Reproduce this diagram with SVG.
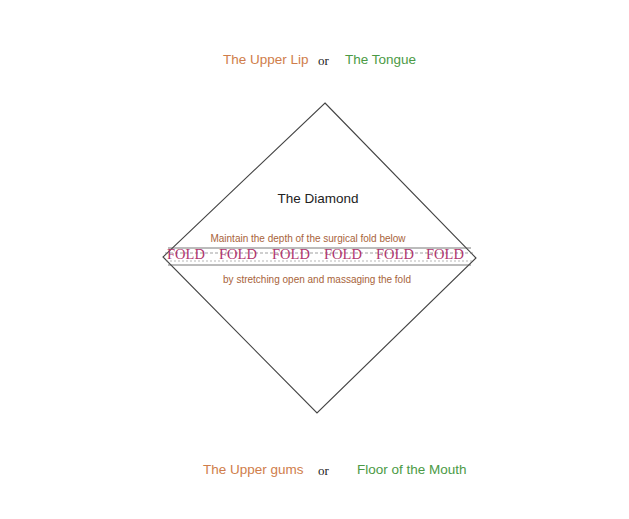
<svg xmlns="http://www.w3.org/2000/svg" width="629" height="519" viewBox="0 0 629 519">
<style>
.sans{font-family:"Liberation Sans",Arial,sans-serif;font-size:13.5px}
.serif{font-family:"Liberation Serif","Times New Roman",serif}
.org{fill:#cf7d4a}
.grn{fill:#4b9a45}
.note{font-family:"Liberation Sans",Arial,sans-serif;font-size:10px;fill:#a8633a}
.fold{font-family:"Liberation Serif","Times New Roman",serif;font-size:14.5px;fill:#b0366e}
.edge{stroke:#444;stroke-width:1.1;fill:none}
</style>
<rect width="629" height="519" fill="#ffffff"/>
<g id="top-label">
<text x="223" y="64" class="sans org">The Upper Lip</text>
<text x="318" y="65" class="serif" font-size="13" fill="#222">or</text>
<text x="345" y="64" class="sans grn">The Tongue</text>
</g>
<g id="diamond">
<polygon class="edge" points="325,103 476,258 317,413 163,257"/>
<text x="318" y="203" class="sans" fill="#222" text-anchor="middle">The Diamond</text>
<text x="308" y="242" class="note" text-anchor="middle">Maintain the depth of the surgical fold below</text>
<g id="fold-band">
<line x1="168" y1="248" x2="471" y2="248" stroke="#555" stroke-width="0.8"/>
<line x1="165" y1="253" x2="474" y2="253" stroke="#777" stroke-width="0.7" stroke-dasharray="3,2"/>
<line x1="166" y1="261" x2="473" y2="261" stroke="#888" stroke-width="0.6" stroke-dasharray="2,2"/>
<line x1="168" y1="265" x2="471" y2="265" stroke="#555" stroke-width="0.8"/>
<text y="259" class="fold"><tspan x="167">FOLD</tspan><tspan x="219">FOLD</tspan><tspan x="272">FOLD</tspan><tspan x="324">FOLD</tspan><tspan x="376">FOLD</tspan><tspan x="426">FOLD</tspan></text>
</g>
<text x="317" y="283" class="note" text-anchor="middle">by stretching open and massaging the fold</text>
</g>
<g id="bottom-label">
<text x="203" y="474" class="sans org">The Upper gums</text>
<text x="318" y="475" class="serif" font-size="13" fill="#222">or</text>
<text x="357" y="474" class="sans grn">Floor of the Mouth</text>
</g>
</svg>
